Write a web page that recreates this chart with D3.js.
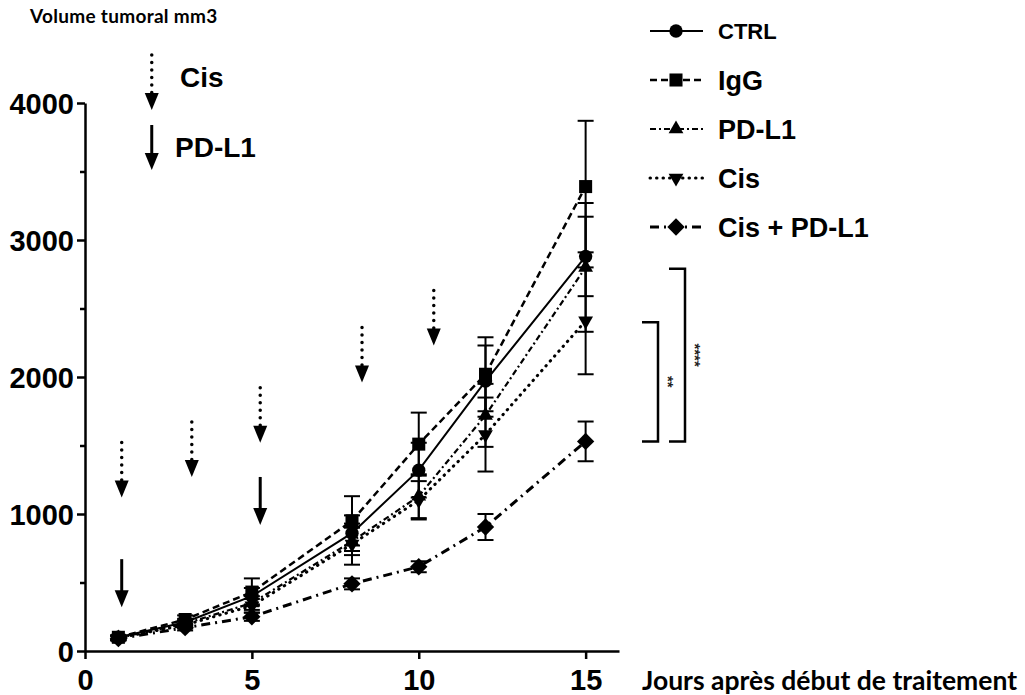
<!DOCTYPE html>
<html>
<head>
<meta charset="utf-8">
<script src="https://cdn.jsdelivr.net/npm/d3@7"></script>
<style>
  body { margin: 0; background: #fff; }
  svg { display: block; }
  .num { font-family: "Liberation Sans", Arial, sans-serif; font-weight: bold; }
  .cal { font-family: Lato, "Open Sans", sans-serif; font-weight: bold; }
</style>
</head>
<body>
<script>
// days of measure
var days = [1, 3, 5, 8, 10, 12, 15];

// mean tumour volume (mm3) per group
var ctrl    = [100, 210, 400, 860, 1320, 1970, 2880];
var igg     = [100, 230, 430, 950, 1510, 2020, 3390];
var pdl1    = [95, 200, 350, 800, 1130, 1720, 2800];
var cis     = [95, 190, 330, 780, 1100, 1580, 2410];
var cisPdl1 = [90, 170, 250, 490, 615, 905, 1530];

// error (SEM)
var ctrlErr    = [15, 25, 60, 130, 200, 260, 290];
var iggErr     = [15, 30, 100, 180, 230, 270, 480];
var pdl1Err    = [15, 25, 50, 100, 160, 230, 470];
var cisErr     = [15, 25, 50, 150, 140, 270, 390];
var cisPdl1Err = [15, 20, 30, 40, 40, 95, 145];

var groupNames = ["CTRL", "IgG", "PD-L1", "Cis", "Cis + PD-L1"];

// treatment arrows : day and value at arrow tip
var cisDays = [1.1, 3.2, 5.25, 8.3, 10.45];
var cisTips = [1120, 1270, 1520, 1960, 2230];
var pdDays = [1.1, 5.25];
var pdTips = [320, 920];

// significance brackets [top value, bottom value, label]
var sigTop = [2400, 2790];
var sigBottom = [1530, 1530];
var sigLabels = ["**", "****"];

var xTicks = [0, 5, 10, 15];
var yTicks = [0, 1000, 2000, 3000, 4000];
var yMinor = [500, 1500, 2500, 3500];

function init() {
    var w = 1025, h = 695;

    var svg = d3.select("body").append("svg")
        .attr("width", w)
        .attr("height", h);

    var xScale = d3.scaleLinear().domain([0, 16]).range([85, 619]);
    var yScale = d3.scaleLinear().domain([0, 4000]).range([651, 103]);

    var series = [
        {name: groupNames[0], v: ctrl, e: ctrlErr, dash: null, sw: 2, sym: d3.symbolCircle, size: 140, rot: 0, cap: "butt"},
        {name: groupNames[1], v: igg, e: iggErr, dash: "7,4", sw: 2.5, sym: d3.symbolSquare, size: 170, rot: 0, cap: "butt"},
        {name: groupNames[2], v: pdl1, e: pdl1Err, dash: "6,3,2,3", sw: 2.2, sym: d3.symbolTriangle, size: 95, rot: 0, cap: "butt"},
        {name: groupNames[3], v: cis, e: cisErr, dash: "0.5,6", sw: 3, sym: d3.symbolTriangle, size: 95, rot: 180, cap: "round"},
        {name: groupNames[4], v: cisPdl1, e: cisPdl1Err, dash: "9,5,2,5", sw: 3, sym: d3.symbolSquare, size: 150, rot: 45, cap: "butt"}
    ];

    // y axis
    svg.append("g")
        .attr("transform", "translate(" + xScale(0) + ",0)")
        .call(d3.axisLeft(yScale).tickValues(yMinor).tickSize(5).tickSizeOuter(0).tickFormat(""))
        .call(function(g) { g.select(".domain").remove(); })
        .selectAll("line").attr("stroke-width", 2.5);

    var yAx = svg.append("g")
        .attr("transform", "translate(" + xScale(0) + ",0)")
        .call(d3.axisLeft(yScale).tickValues(yTicks).tickSize(8).tickSizeOuter(0).tickPadding(3).tickFormat(d3.format("d")));
    yAx.select(".domain").attr("stroke-width", 2.5);
    yAx.selectAll("line").attr("stroke-width", 2.5);
    yAx.selectAll("text").attr("class", "num").style("font-size", "29px").attr("dy", "0.36em");

    // x axis
    var xAx = svg.append("g")
        .attr("transform", "translate(0," + yScale(0) + ")")
        .call(d3.axisBottom(xScale).tickValues(xTicks).tickSize(8).tickSizeOuter(0).tickPadding(10));
    xAx.select(".domain").attr("stroke-width", 2.5);
    xAx.selectAll("line").attr("stroke-width", 2.5);
    xAx.selectAll("text").attr("class", "num").style("font-size", "29px");

    // axis titles
    svg.append("text").attr("class", "cal")
        .attr("x", 30).attr("y", 23)
        .style("font-size", "19px")
        .style("letter-spacing", "0.3px")
        .text("Volume tumoral mm3");

    svg.append("text").attr("class", "cal")
        .attr("x", 642).attr("y", 690)
        .style("font-size", "26.5px")
        .text("Jours après début de traitement");

    // lines
    series.forEach(function(s) {
        var line = d3.line()
            .x(function(d, i) { return xScale(days[i]); })
            .y(function(d) { return yScale(d); });
        svg.append("path")
            .datum(s.v)
            .attr("d", line)
            .attr("fill", "none")
            .attr("stroke", "black")
            .attr("stroke-width", s.sw)
            .attr("stroke-linecap", s.cap)
            .attr("stroke-dasharray", s.dash);
    });

    // error bars
    series.forEach(function(s) {
        var g = svg.append("g").attr("stroke", "black").attr("stroke-width", 2);
        s.v.forEach(function(d, i) {
            var x = xScale(days[i]);
            g.append("line").attr("x1", x).attr("x2", x)
                .attr("y1", yScale(d + s.e[i])).attr("y2", yScale(d - s.e[i]));
            [d + s.e[i], d - s.e[i]].forEach(function(v) {
                g.append("line").attr("x1", x - 8).attr("x2", x + 8)
                    .attr("y1", yScale(v)).attr("y2", yScale(v));
            });
        });
    });

    // markers
    series.forEach(function(s) {
        var sym = d3.symbol().type(s.sym).size(s.size);
        svg.append("g").selectAll("path")
            .data(s.v).enter().append("path")
            .attr("d", sym)
            .attr("fill", "black")
            .attr("transform", function(d, i) {
                return "translate(" + xScale(days[i]) + "," + yScale(d) + ") rotate(" + s.rot + ")";
            });
    });

    // arrows
    function arrow(x, tipY, len, dotted) {
        var g = svg.append("g");
        g.append("line")
            .attr("x1", x).attr("x2", x)
            .attr("y1", tipY - len).attr("y2", tipY - 14)
            .attr("stroke", "black")
            .attr("stroke-width", dotted ? 3.5 : 3)
            .attr("stroke-linecap", dotted ? "round" : "butt")
            .attr("stroke-dasharray", dotted ? "0,7.5" : null);
        g.append("path")
            .attr("d", "M" + (x - 7) + "," + (tipY - 17) + "L" + (x + 7) + "," + (tipY - 17) + "L" + x + "," + tipY + "Z")
            .attr("fill", "black");
    }
    cisDays.forEach(function(d, i) { arrow(xScale(d), yScale(cisTips[i]), 55, true); });
    pdDays.forEach(function(d, i) { arrow(xScale(d), yScale(pdTips[i]), 48, false); });

    // treatment key
    arrow(xScale(2), 110, 55, true);
    arrow(xScale(2), 170, 45, false);
    svg.append("text").attr("class", "num")
        .attr("x", 180).attr("y", 87)
        .style("font-size", "28px").text("Cis");
    svg.append("text").attr("class", "num")
        .attr("x", 175).attr("y", 157)
        .style("font-size", "28px").text("PD-L1");

    // significance
    var bx = [658, 685];
    sigTop.forEach(function(t, i) {
        var yt = yScale(t), yb = yScale(sigBottom[i]);
        svg.append("path")
            .attr("d", "M" + (bx[i] - 16) + "," + yt + "H" + bx[i] + "V" + yb + "H" + (bx[i] - 16))
            .attr("fill", "none").attr("stroke", "black").attr("stroke-width", 2.5);
        svg.append("text").attr("class", "num")
            .attr("transform", "translate(" + (bx[i] + 5) + "," + ((yt + yb) / 2) + ") rotate(90)")
            .attr("text-anchor", "middle")
            .attr("fill", "#222")
            .style("font-size", "15px")
            .text(sigLabels[i]);
    });

    // legend
    var leg = svg.append("g");
    series.forEach(function(s, i) {
        var y = 31 + i * 49;
        leg.append("line")
            .attr("x1", 650).attr("x2", 703)
            .attr("y1", y).attr("y2", y)
            .attr("stroke", "black")
            .attr("stroke-width", s.sw)
            .attr("stroke-linecap", s.cap)
            .attr("stroke-dasharray", s.dash);
        leg.append("path")
            .attr("d", d3.symbol().type(s.sym).size(s.size)())
            .attr("transform", "translate(676," + y + ") rotate(" + s.rot + ")")
            .attr("fill", "black");
        leg.append("text").attr("class", "num")
            .attr("x", 718).attr("y", y)
            .attr("dy", "0.36em")
            .style("font-size", i === 0 ? "22px" : "27px")
            .text(s.name);
    });
}

window.onload = init;
</script>
</body>
</html>
